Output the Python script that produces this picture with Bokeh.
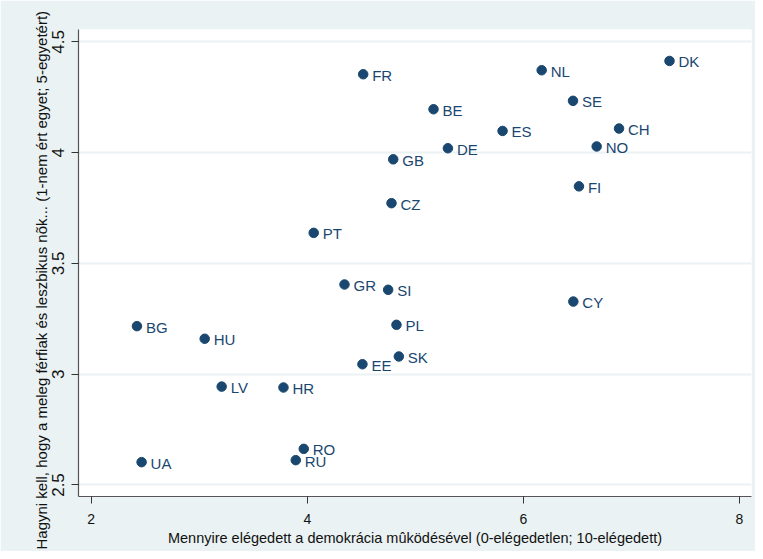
from bokeh.plotting import figure
from bokeh.models import Range1d, FixedTicker, NumeralTickFormatter, Title, ColumnDataSource
from bokeh.embed import file_html
from bokeh.resources import INLINE
from bokeh.core.properties import value

countries = ["FR", "NL", "DK", "SE", "BE", "ES", "CH", "DE", "NO", "GB", "FI", "CZ", "PT",
             "GR", "SI", "CY", "BG", "PL", "HU", "SK", "EE", "LV", "HR", "RO", "RU", "UA"]
democracy = [4.517, 6.169, 7.352, 6.459, 5.168, 5.807, 6.885, 5.301, 6.678, 4.795, 6.514, 4.779, 4.059,
             4.344, 4.748, 6.462, 2.423, 4.825, 3.050, 4.847, 4.510, 3.207, 3.779, 3.967, 3.893, 2.466]
gay_rights = [4.354, 4.372, 4.414, 4.234, 4.196, 4.098, 4.109, 4.020, 4.028, 3.970, 3.848, 3.772, 3.638,
              3.405, 3.381, 3.328, 3.217, 3.223, 3.160, 3.080, 3.045, 2.944, 2.940, 2.663, 2.612, 2.603]
x_ticks = [2, 4, 6, 8]
y_ticks = [2.5, 3, 3.5, 4, 4.5]
x_title = "Mennyire elégedett a demokrácia mûködésével (0-elégedetlen; 10-elégedett)"
y_title = "Hagyni kell, hogy a meleg férfiak és leszbikus nõk... (1-nem ért egyet; 5-egyetért)"

NAVY = "#1a476f"
BG = "#eaf2f3"
FONT = "Liberation Sans"

src = ColumnDataSource(dict(x=democracy, y=gay_rights, label=countries))

p = figure(width=755, height=551, output_backend="svg", toolbar_location=None,
           x_range=Range1d(1.882, 8.111), y_range=Range1d(2.448, 4.556),
           min_border_left=78, min_border_right=4, min_border_top=29, min_border_bottom=55,
           background_fill_color="white", border_fill_color=BG, outline_line_color=None)

p.xgrid.visible = False
p.ygrid.grid_line_color = BG
p.ygrid.grid_line_width = 2
p.ygrid.ticker = FixedTicker(ticks=y_ticks)

p.xaxis.ticker = FixedTicker(ticks=x_ticks)
p.yaxis.ticker = FixedTicker(ticks=y_ticks)
p.xaxis.formatter = NumeralTickFormatter(format="0")
p.yaxis.formatter = NumeralTickFormatter(format="0.[0]")

for ax in (p.xaxis[0], p.yaxis[0]):
    ax.axis_line_color = "#555555"
    ax.axis_line_width = 1.2
    ax.major_tick_line_color = "#333333"
    ax.major_tick_in = 0
    ax.major_tick_out = 7
    ax.minor_tick_line_color = None
    ax.major_label_text_font = FONT
    ax.major_label_text_color = "#111111"

p.xaxis.major_label_text_font_size = "14px"
p.xaxis.major_label_standoff = 10
p.xaxis.axis_label = x_title
p.xaxis.axis_label_text_font = FONT
p.xaxis.axis_label_text_font_size = "14.5px"
p.xaxis.axis_label_text_font_style = "normal"
p.xaxis.axis_label_text_color = "#111111"
p.xaxis.axis_label_standoff = 3

p.yaxis.major_label_text_font_size = "17px"
p.yaxis.major_label_orientation = "vertical"
p.yaxis.major_label_standoff = 7

p.add_layout(Title(text=y_title, align="left", offset=-53, text_font=FONT,
                   text_font_size="15px", text_font_style="normal", text_color="#111111",
                   standoff=0), "left")

p.scatter("x", "y", source=src, size=9.5, fill_color=NAVY, line_color=NAVY)
p.text("x", "y", text="label", source=src, x_offset=9, y_offset=1,
       text_font=value(FONT), text_font_size="15px", text_color=NAVY,
       text_baseline="middle", text_align="left")

open("out.html", "w").write(file_html(p, INLINE))
